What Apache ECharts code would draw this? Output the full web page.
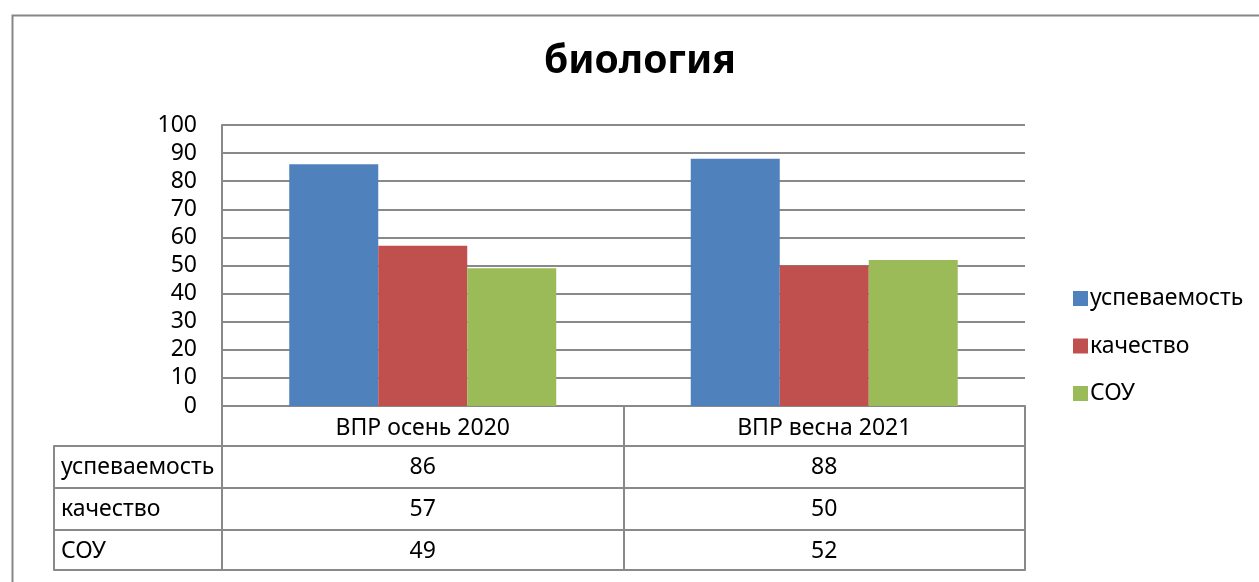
<!DOCTYPE html>
<html>
<head>
<meta charset="utf-8">
<script src="https://cdn.jsdelivr.net/npm/echarts@6/dist/echarts.min.js"></script>
<style>
  html, body { margin: 0; padding: 0; background: #fff; }
  #chart { width: 1259px; height: 582px; }
</style>
</head>
<body>
<div id="chart"></div>
<script>
const categories = ['ВПР осень 2020', 'ВПР весна 2021']
const seriesNames = ['успеваемость', 'качество', 'СОУ']
const uspevaemost = [86, 88]
const kachestvo = [57, 50]
const sou = [49, 52]
const seriesValues = [uspevaemost, kachestvo, sou]
const colors = ['#4F81BD', '#C0504D', '#9BBB59']

const FONT = 'Noto Sans'
const FS = 23
const lineColor = '#898989'

const chart = echarts.init(document.getElementById('chart'))

// table rows are extra x axes stacked under the plot
const rowOffsets = [40, 82, 124]
const rowTicks = [42, 42, 40]
const rowAxes = seriesNames.map((name, i) => ({
  type: 'category',
  gridIndex: 0,
  position: 'bottom',
  offset: rowOffsets[i],
  data: seriesValues[i].map(v => String(v)),
  axisLine: { show: true, onZero: false, lineStyle: { color: lineColor, width: 2 } },
  axisTick: { show: true, length: rowTicks[i], lineStyle: { color: lineColor, width: 2 } },
  axisLabel: { margin: 10, fontSize: FS, color: '#000', fontFamily: FONT },
  name: name,
  nameLocation: 'start',
  nameGap: 161,
  nameTextStyle: {
    align: 'left',
    verticalAlign: 'top',
    padding: [10, 0, 0, 0],
    fontSize: FS,
    color: '#000',
    fontFamily: FONT
  }
}))

const option = {
  backgroundColor: '#fff',
  animation: false,
  title: {
    text: 'биология',
    left: 539,
    top: 37,
    textStyle: { fontSize: 39, fontWeight: 'bold', color: '#000', fontFamily: FONT }
  },
  legend: {
    orient: 'vertical',
    left: 1068,
    top: 282,
    itemWidth: 15,
    itemHeight: 15,
    itemGap: 24.5,
    icon: 'rect',
    textStyle: { fontSize: FS, color: '#000', fontFamily: FONT, padding: [0, 0, 0, -3] },
    data: seriesNames
  },
  graphic: [
    {
      type: 'rect',
      left: 10,
      top: 13,
      shape: { width: 1300, height: 620 },
      style: { fill: 'none', stroke: '#868686', lineWidth: 2 }
    }
  ],
  grid: [
    { left: 222, right: 234, top: 125, bottom: 176 },
    { left: 54, width: 168, top: 125, bottom: 176 }
  ],
  xAxis: [
    {
      type: 'category',
      gridIndex: 0,
      data: categories,
      axisLine: { show: true, lineStyle: { color: lineColor, width: 2 } },
      axisTick: { show: true, length: 40, lineStyle: { color: lineColor, width: 2 } },
      axisLabel: { margin: 11, fontSize: FS, color: '#000', fontFamily: FONT }
    },
    ...rowAxes,
    {
      type: 'category',
      gridIndex: 0,
      position: 'bottom',
      offset: 164,
      data: categories,
      axisLine: { show: true, onZero: false, lineStyle: { color: lineColor, width: 2 } },
      axisTick: { show: false },
      axisLabel: { show: false }
    },
    // left column of the table
    ...rowOffsets.map((off, i) => ({
      type: 'category',
      gridIndex: 1,
      position: 'bottom',
      offset: off,
      data: [''],
      axisLine: { show: true, onZero: false, lineStyle: { color: lineColor, width: 2 } },
      axisTick: { show: true, length: rowTicks[i], lineStyle: { color: lineColor, width: 2 } },
      axisLabel: { show: false }
    })),
    {
      type: 'category',
      gridIndex: 1,
      position: 'bottom',
      offset: 164,
      data: [''],
      axisLine: { show: true, onZero: false, lineStyle: { color: lineColor, width: 2 } },
      axisTick: { show: false },
      axisLabel: { show: false }
    }
  ],
  yAxis: [
    {
      type: 'value',
      gridIndex: 0,
      min: 0,
      max: 100,
      interval: 10,
      axisLine: { show: true, lineStyle: { color: lineColor, width: 2 } },
      axisTick: { show: false },
      axisLabel: { margin: 25, fontSize: FS, color: '#000', fontFamily: FONT },
      splitLine: { show: true, lineStyle: { color: lineColor, width: 2 } }
    },
    { type: 'value', gridIndex: 1, show: false }
  ],
  series: seriesNames.map((name, i) => ({
    name: name,
    type: 'bar',
    xAxisIndex: 0,
    yAxisIndex: 0,
    data: seriesValues[i],
    barGap: 0,
    barCategoryGap: '33.5%',
    itemStyle: { color: colors[i] }
  }))
}

chart.setOption(option)
</script>
</body>
</html>
